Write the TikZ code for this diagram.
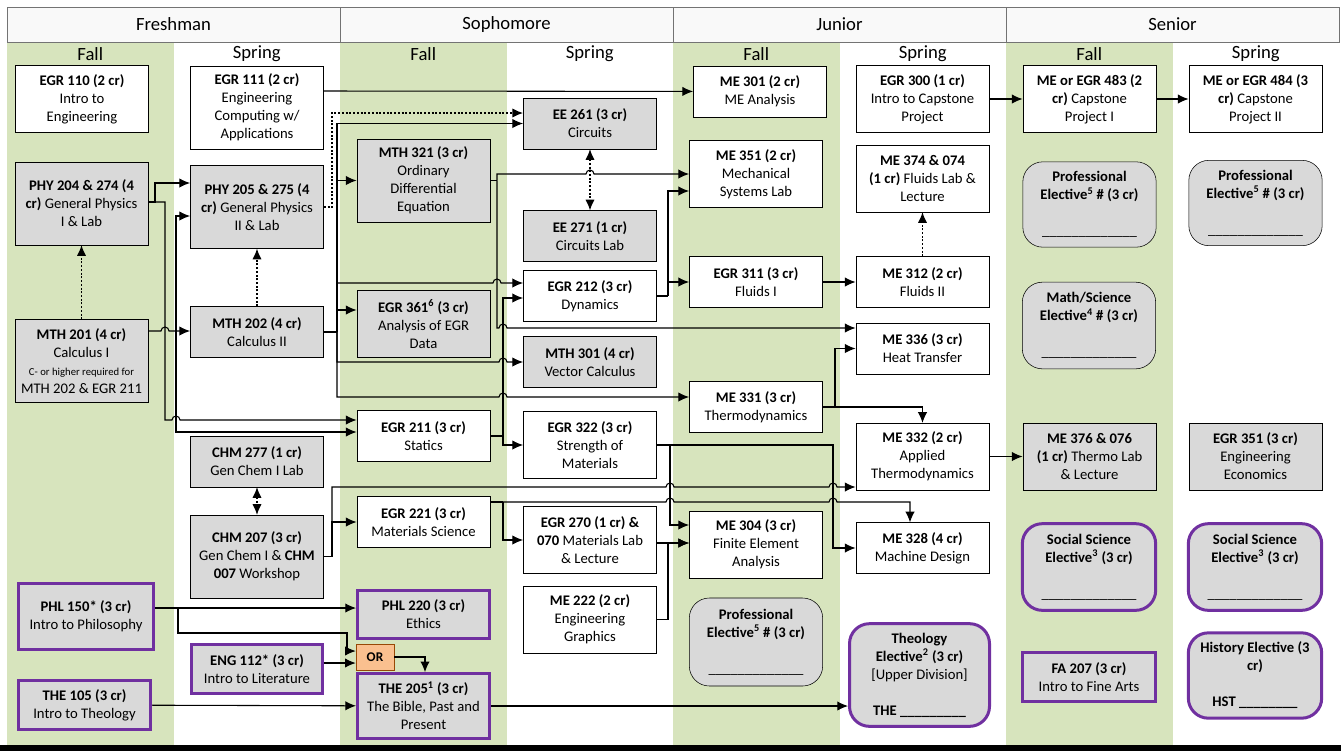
\documentclass[tikz,border=0pt]{standalone}
\usepackage{fontspec}
\setmainfont{Carlito}
\usetikzlibrary{arrows.meta}
\definecolor{fallgreen}{RGB}{215,228,189}
\definecolor{boxgray}{RGB}{217,217,217}
\definecolor{electpurple}{RGB}{112,48,160}
\definecolor{orfill}{RGB}{250,192,143}
\definecolor{orline}{RGB}{151,72,6}
\newcommand{\fillin}{\_\_\_\_\_\_\_\_\_\_\_\_\_}
\newcommand{\cnote}{\fontsize{8}{11.5}\selectfont}

\begin{document}
\begin{tikzpicture}[x=0.75pt,y=-0.75pt,
  font=\fontsize{11}{13.5}\selectfont,
  >={Latex[length=8pt,width=7pt]},
  crs/.style={draw, fill=white, minimum width=100pt, inner sep=2pt, align=center},
  crsg/.style={crs, fill=boxgray},
  ucore/.style={crsg, draw=electpurple, line width=2.25pt},
  elect/.style={crsg, rounded corners=15pt},
  uelect/.style={elect, draw=electpurple, line width=2.25pt},
  ornode/.style={draw=orline, fill=orfill, minimum width=28.5pt, minimum height=19.5pt, inner sep=0pt, font=\bfseries},
  h2/.style={minimum height=38pt},
  h3/.style={minimum height=50pt},
  h4/.style={minimum height=62pt},
  yearhd/.style={draw=black!55, fill=gray!5, minimum width=249.75pt, minimum height=26.25pt, font=\fontsize{14}{16}\selectfont},
  semhd/.style={inner sep=0pt, font=\fontsize{14}{16}\selectfont},
  arr/.style={->, line width=0.8pt},
  lnk/.style={line width=0.8pt},
  dotarr/.style={->, line width=1.1pt, dash pattern=on 1.5pt off 1.3pt},
  jump/.style={insert path={arc[start angle=180, end angle=0, radius=3pt]}}]

\useasboundingbox (0,0) rectangle (1341,751);

\foreach \x/\nm/\yr in {7/fresh/Freshman, 340/soph/Sophomore, 673/jun/Junior, 1006/sen/Senior}{
  \fill[fallgreen] (\x,42) rectangle ++(166.5,703);
  \node[yearhd] (\nm) at (\x+166.5,24.5) {\yr};
  \node[semhd] (\nm fall) at (\x+83.25,54) {Fall};
  \node[semhd] (\nm spring) at (\x+249.75,54) {Spring};
}
\fill (0,745) rectangle (1341,751);

\node[crs,h3] (egr110) at (82,99) {\textbf{EGR 110 (2 cr)}\\Intro to\\Engineering};
\node[crsg,h4] (phy204) at (81.5,203.5) {\textbf{PHY 204 \& 274 (4}\\\textbf{cr)} General Physics\\I \& Lab};
\node[crsg,h4] (mth201) at (81.5,361) {\textbf{MTH 201 (4 cr)}\\Calculus I\\\cnote C- or higher required for\\MTH 202 \& EGR 211};
\node[ucore, minimum width=101pt, minimum height=49.5pt] (phl150) at (86,616.5) {\textbf{PHL 150* (3 cr)}\\Intro to Philosophy};
\node[ucore, minimum width=99pt, minimum height=37pt] (the105) at (84.5,705) {\textbf{THE 105 (3 cr)}\\Intro to Theology};

\node[crs,h4] (egr111) at (257,107.5) {\textbf{EGR 111 (2 cr)}\\Engineering\\Computing w/\\Applications};
\node[crsg,h4] (phy205) at (257,207) {\textbf{PHY 205 \& 275 (4}\\\textbf{cr)} General Physics\\II \& Lab};
\node[crsg,h2] (mth202) at (257,332) {\textbf{MTH 202 (4 cr)}\\Calculus II};
\node[crsg,h2] (chm277) at (257,461.5) {\textbf{CHM 277 (1 cr)}\\Gen Chem I Lab};
\node[crsg,h4] (chm207) at (257,556.5) {\textbf{CHM 207 (3 cr)}\\Gen Chem I \& \textbf{CHM}\\\textbf{007} Workshop};
\node[ucore, minimum width=98pt, minimum height=37pt] (eng112) at (257,669) {\textbf{ENG 112* (3 cr)}\\Intro to Literature};

\node[crsg,h4] (mth321) at (423.5,180.5) {\textbf{MTH 321 (3 cr)}\\Ordinary\\Differential\\Equation};
\node[crsg,h3] (egr361) at (423.5,324) {\textbf{EGR 361\textsuperscript{6} (3 cr)}\\Analysis of EGR\\Data};
\node[crs,h2] (egr211) at (423.5,436) {\textbf{EGR 211 (3 cr)}\\Statics};
\node[crs,h2] (egr221) at (423.5,522) {\textbf{EGR 221 (3 cr)}\\Materials Science};
\node[ucore, minimum width=99pt, minimum height=36pt] (phl220) at (423.5,614.5) {\textbf{PHL 220 (3 cr)}\\Ethics};
\node[ornode] (orbox) at (375,657) {OR};
\node[ucore, minimum width=99pt, minimum height=48.5pt] (the205) at (423.5,706) {\textbf{THE 205\textsuperscript{1} (3 cr)}\\The Bible, Past and\\Present};

\node[crsg,h2] (ee261) at (590,123.5) {\textbf{EE 261 (3 cr)}\\Circuits};
\node[crsg,h2] (ee271) at (590,236) {\textbf{EE 271 (1 cr)}\\Circuits Lab};
\node[crs,h2] (egr212) at (590,296) {\textbf{EGR 212 (3 cr)}\\Dynamics};
\node[crsg,h2] (mth301) at (590,362) {\textbf{MTH 301 (4 cr)}\\Vector Calculus};
\node[crs,h3] (egr322) at (590,445) {\textbf{EGR 322 (3 cr)}\\Strength of\\Materials};
\node[crs,h3] (egr270) at (590,540) {\textbf{EGR 270 (1 cr) \&}\\\textbf{070} Materials Lab\\\& Lecture};
\node[crs,h3] (me222) at (590,619.5) {\textbf{ME 222 (2 cr)}\\Engineering\\Graphics};

\node[crs,h2] (me301) at (760,91.5) {\textbf{ME 301 (2 cr)}\\ME Analysis};
\node[crs,h3] (me351) at (756,174) {\textbf{ME 351 (2 cr)}\\Mechanical\\Systems Lab};
\node[crs,h2] (egr311) at (756,282) {\textbf{EGR 311 (3 cr)}\\Fluids I};
\node[crs,h2] (me331) at (756,407) {\textbf{ME 331 (3 cr)}\\Thermodynamics};
\node[crs,h3] (me304) at (756,544.5) {\textbf{ME 304 (3 cr)}\\Finite Element\\Analysis};
\node[elect, minimum height=66pt] (profel1) at (756,642) {\textbf{Professional}\\\textbf{Elective\textsuperscript{5} \# (3 cr)}\\[13.5pt]\fillin};

\node[crs,h3] (egr300) at (922.5,99) {\textbf{EGR 300 (1 cr)}\\Intro to Capstone\\Project};
\node[crs,h3] (me374) at (922.5,178.5) {\textbf{ME 374 \& 074}\\\textbf{(1 cr)} Fluids Lab \&\\Lecture};
\node[crs,h2] (me312) at (922.5,282) {\textbf{ME 312 (2 cr)}\\Fluids II};
\node[crs,h2] (me336) at (922.5,348.5) {\textbf{ME 336 (3 cr)}\\Heat Transfer};
\node[crs,h3] (me332) at (922.5,456.5) {\textbf{ME 332 (2 cr)}\\Applied\\Thermodynamics};
\node[crs,h2] (me328) at (922.5,548) {\textbf{ME 328 (4 cr)}\\Machine Design};
\node[uelect, minimum width=105pt, minimum height=77pt] (theoel) at (919.5,675) {\textbf{Theology}\\\textbf{Elective\textsuperscript{2} (3 cr)}\\{[Upper Division]}\\[13.5pt]\textbf{THE \_\_\_\_\_\_\_\_\_}};

\node[crs,h3] (egr483) at (1089.5,99) {\textbf{ME or EGR 483 (2}\\\textbf{cr)} Capstone\\Project I};
\node[elect, minimum height=64pt] (profel2) at (1089.5,204.5) {\textbf{Professional}\\\textbf{Elective\textsuperscript{5} \# (3 cr)}\\[13.5pt]\fillin};
\node[elect, minimum height=65pt] (mathel) at (1089,325.5) {\textbf{Math/Science}\\\textbf{Elective\textsuperscript{4} \# (3 cr)}\\[13.5pt]\fillin};
\node[crsg,h3] (me376) at (1089.5,456.5) {\textbf{ME 376 \& 076}\\\textbf{(1 cr)} Thermo Lab\\\& Lecture};
\node[uelect, minimum height=65pt] (socel1) at (1089,567) {\textbf{Social Science}\\\textbf{Elective\textsuperscript{3} (3 cr)}\\[13.5pt]\fillin};
\node[ucore, minimum height=37pt] (fa207) at (1089,677) {\textbf{FA 207 (3 cr)}\\Intro to Fine Arts};

\node[crs,h3] (egr484) at (1255.5,99) {\textbf{ME or EGR 484 (3}\\\textbf{cr)} Capstone\\Project II};
\node[elect, minimum height=64pt] (profel3) at (1255.5,203) {\textbf{Professional}\\\textbf{Elective\textsuperscript{5} \# (3 cr)}\\[13.5pt]\fillin};
\node[crsg,h3] (egr351) at (1255.5,456.5) {\textbf{EGR 351 (3 cr)}\\Engineering\\Economics};
\node[uelect, minimum height=65pt] (socel2) at (1255,567) {\textbf{Social Science}\\\textbf{Elective\textsuperscript{3} (3 cr)}\\[13.5pt]\fillin};
\node[uelect, minimum height=64pt] (histel) at (1255,675.5) {\textbf{History Elective (3}\\\textbf{cr)}\\[13.5pt]\textbf{HST \_\_\_\_\_\_\_\_}};

\coordinate (j201) at (176,331);
\coordinate (j202) at (337,332);
\coordinate (j321) at (497,180.5);
\coordinate (j211) at (503,436);
\coordinate (j212) at (668,296);
\coordinate (j331) at (835,407);
\coordinate (j322) at (670,445);
\coordinate (j207) at (332,556.5);
\coordinate (j221) at (503,502);
\coordinate (j150) at (178,608);

\draw[dotarr] (mth201) -- (phy204);
\draw[dotarr] (mth202) -- (phy205);
\draw[dotarr,<->] (chm277) -- (chm207);
\draw[dotarr,<->] (ee261) -- (ee271);
\draw[dotarr] (me312) -- (me374);
\draw[dotarr] (phy205) -- (332,207) |- (ee261.west |- 0,113);

\draw[arr] (phy204.east |- 0,202) -- (155,202) |- (phy205.west |- 0,183);
\draw[arr] (phy204.east |- 0,202) -- (165,202) -- (165,420) -- (172,420) [jump] -- (egr211.west |- 0,420);
\draw[arr] (mth201.east |- 0,331) -- (161,331) [jump] -- (mth202.west |- 0,331);
\draw[arr] (j201) |- (phy205.west |- 0,216);
\draw[arr] (j201) |- (egr211.west |- 0,432);

\draw[lnk] (mth202) -- (j202);
\draw[arr] (j202) |- (ee261);
\draw[arr] (j202) |- (mth321);
\draw[arr] (j202) |- (egr361.west |- 0,310);
\draw[arr] (j202) |- (493,283) [jump] -- (egr212.west |- 0,283);
\draw[arr] (j202) |- (499,362) [jump] -- (mth301);
\draw[arr] (j202) |- (499,397) [jump] -- (me331.west |- 0,397);

\draw[lnk] (mth321) -- (j321);
\draw[arr] (j321) |- (586,174) [jump] -- (me351);
\draw[arr] (j321) |- (499,328) [jump] -- (me336.west |- 0,328);

\draw[lnk] (egr211) -- (j211);
\draw[arr] (j211) |- (egr212.west |- 0,298);
\draw[arr] (j211) |- (egr322);

\draw[lnk] (egr212) -- (j212);
\draw[arr] (j212) |- (me351.west |- 0,191);
\draw[arr] (j212) |- (egr311);
\draw[arr] (egr311) -- (me312);

\draw[lnk] (me331) -- (j331);
\draw[arr] (j331) |- (me336);
\draw[arr] (j331) -| (me332);
\draw[arr] (me332) -- (me376);

\draw[lnk] (egr322) -- (j322);
\draw[arr] (j322) |- (me304.west |- 0,525);
\draw[arr] (j322) -- (833,445) |- (me328);

\draw[lnk] (chm207) -- (j207);
\draw[arr] (j207) |- (egr221);
\draw[arr] (j207) |- (666,487) [jump] -- (829,487) [jump] -- (me332.west |- 0,487);

\draw[lnk] (egr221.east |- j221) -- (j221);
\draw[arr] (j221) |- (egr270);
\draw[arr] (j221) -- (666,502) [jump] -- (829,502) [jump] -- (910,502) -- (me328.north -| 910,0);
\draw[arr] (egr270.east |- 0,543) -- (me304.west |- 0,543);
\draw[arr] (me222) -| (668,543) -- (me304.west |- 0,543);

\draw[arr] (phl150.east |- 0,608) -- (phl220.west |- 0,608);
\draw[arr] (j150) |- (347,633) |- (orbox.west |- 0,651);
\draw[arr] (eng112.east |- 0,663) -- (orbox.west |- 0,663);
\draw[arr] (orbox) -| (the205.north -| 425,0);
\draw[arr] (the105) -- (the205);
\draw[arr] (the205) -- (theoel.west |- the205);

\draw[arr] (egr111.east |- 0,91) -- (me301);
\draw[arr] (egr300) -- (egr483);
\draw[arr] (egr483) -- (egr484);

\end{tikzpicture}
\end{document}
